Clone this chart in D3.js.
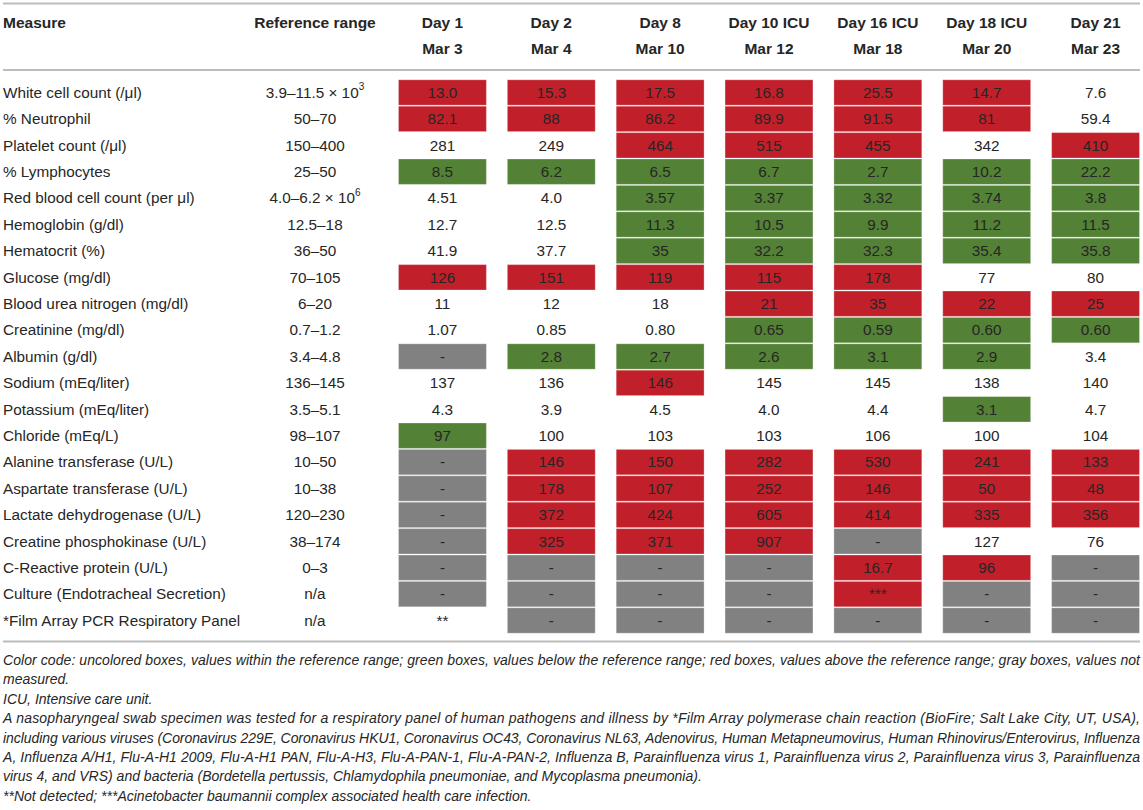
<!DOCTYPE html>
<html><head><meta charset="utf-8">
<script src="https://cdn.jsdelivr.net/npm/d3@7"></script>
<style>
body{margin:0;background:#fff;}
svg text{font-family:"Liberation Sans",Arial,sans-serif;fill:#262626;}
</style></head>
<body><svg id="c" width="1143" height="810"></svg>
<script>
const days = ["Day 1","Day 2","Day 8","Day 10 ICU","Day 16 ICU","Day 18 ICU","Day 21"];
const dates = ["Mar 3","Mar 4","Mar 10","Mar 12","Mar 18","Mar 20","Mar 23"];
const measures = ["White cell count (/μl)","% Neutrophil","Platelet count (/μl)","% Lymphocytes","Red blood cell count (per μl)","Hemoglobin (g/dl)","Hematocrit (%)","Glucose (mg/dl)","Blood urea nitrogen (mg/dl)","Creatinine (mg/dl)","Albumin (g/dl)","Sodium (mEq/liter)","Potassium (mEq/liter)","Chloride (mEq/L)","Alanine transferase (U/L)","Aspartate transferase (U/L)","Lactate dehydrogenase (U/L)","Creatine phosphokinase (U/L)","C-Reactive protein (U/L)","Culture (Endotracheal Secretion)","*Film Array PCR Respiratory Panel"];
const refRanges = ["3.9–11.5 × 10^3","50–70","150–400","25–50","4.0–6.2 × 10^6","12.5–18","36–50","70–105","6–20","0.7–1.2","3.4–4.8","136–145","3.5–5.1","98–107","10–50","10–38","120–230","38–174","0–3","n/a","n/a"];
const values = [
 ["13.0","15.3","17.5","16.8","25.5","14.7","7.6"],
 ["82.1","88","86.2","89.9","91.5","81","59.4"],
 ["281","249","464","515","455","342","410"],
 ["8.5","6.2","6.5","6.7","2.7","10.2","22.2"],
 ["4.51","4.0","3.57","3.37","3.32","3.74","3.8"],
 ["12.7","12.5","11.3","10.5","9.9","11.2","11.5"],
 ["41.9","37.7","35","32.2","32.3","35.4","35.8"],
 ["126","151","119","115","178","77","80"],
 ["11","12","18","21","35","22","25"],
 ["1.07","0.85","0.80","0.65","0.59","0.60","0.60"],
 ["-","2.8","2.7","2.6","3.1","2.9","3.4"],
 ["137","136","146","145","145","138","140"],
 ["4.3","3.9","4.5","4.0","4.4","3.1","4.7"],
 ["97","100","103","103","106","100","104"],
 ["-","146","150","282","530","241","133"],
 ["-","178","107","252","146","50","48"],
 ["-","372","424","605","414","335","356"],
 ["-","325","371","907","-","127","76"],
 ["-","-","-","-","16.7","96","-"],
 ["-","-","-","-","***","-","-"],
 ["**","-","-","-","-","-","-"]
];
// N = within range, L = below, H = above, X = not measured
const status = [
 "HHHHHHN","HHHHHHN","NNHHHNH","LLLLLLL","NNLLLLL","NNLLLLL","NNLLLLL",
 "HHHHHNN","NNNHHHH","NNNLLLL","XLLLLLN","NNHNNNN","NNNNNLN","LNNNNNN",
 "XHHHHHH","XHHHHHH","XHHHHHH","XHHHXNN","XXXXHHX","XXXXHXX","NXXXXXX"
];
const footnotes = [
 ["Color code: uncolored boxes, values within the reference range; green boxes, values below the reference range; red boxes, values above the reference range; gray boxes, values not", true],
 ["measured.", false],
 ["ICU, Intensive care unit.", false],
 ["A nasopharyngeal swab specimen was tested for a respiratory panel of human pathogens and illness by *Film Array polymerase chain reaction (BioFire; Salt Lake City, UT, USA),", true],
 ["including various viruses (Coronavirus 229E, Coronavirus HKU1, Coronavirus OC43, Coronavirus NL63, Adenovirus, Human Metapneumovirus, Human Rhinovirus/Enterovirus, Influenza", true],
 ["A, Influenza A/H1, Flu-A-H1 2009, Flu-A-H1 PAN, Flu-A-H3, Flu-A-PAN-1, Flu-A-PAN-2, Influenza B, Parainfluenza virus 1, Parainfluenza virus 2, Parainfluenza virus 3, Parainfluenza", true],
 ["virus 4, and VRS) and bacteria (Bordetella pertussis, Chlamydophila pneumoniae, and Mycoplasma pneumonia).", false],
 ["**Not detected; ***Acinetobacter baumannii complex associated health care infection.", false]
];
const colors = {H:"#c1202a", L:"#538135", X:"#818181", N:"none"};

const svg = d3.select("#c");
const x = d3.scaleBand().domain(days).range([398,1140]).paddingInner(20/109);
const y = d3.scaleBand().domain(measures).range([79.3,633.7]);
const left = 3, right = 1140, refX = 315;
const fs = 15.3;

// rules
[3.5, 70, 641.5].forEach(v => svg.append("line").attr("x1",left).attr("x2",right).attr("y1",v).attr("y2",v)
  .attr("stroke","#bcbcbc").attr("stroke-width",2));

// header
const hdr = svg.append("g").attr("font-weight","bold").attr("font-size",15.5);
hdr.append("text").attr("x",left).attr("y",23).attr("dy","0.35em").text("Measure");
hdr.append("text").attr("x",refX).attr("y",23).attr("dy","0.35em").attr("text-anchor","middle").text("Reference range");
days.forEach((d,i)=>{
  const cx = x(d)+x.bandwidth()/2;
  hdr.append("text").attr("x",cx).attr("y",23).attr("dy","0.35em").attr("text-anchor","middle").text(d);
  hdr.append("text").attr("x",cx).attr("y",49).attr("dy","0.35em").attr("text-anchor","middle").text(dates[i]);
});

// cells
const cells = [];
measures.forEach((m,r)=>days.forEach((d,c)=>cells.push({m,d,v:values[r][c],s:status[r][c]})));
const g = svg.append("g");
g.selectAll("rect").data(cells.filter(c=>c.s!=="N")).join("rect")
  .attr("x",c=>x(c.d)+0.5).attr("y",c=>y(c.m)+0.5)
  .attr("width",x.bandwidth()-1).attr("height",y.bandwidth()-1)
  .attr("fill",c=>colors[c.s]).attr("stroke","rgba(255,255,255,0.28)").attr("stroke-width",1);
g.selectAll("text").data(cells).join("text")
  .attr("x",c=>x(c.d)+x.bandwidth()/2).attr("y",c=>y(c.m)+y.bandwidth()/2).attr("dy","0.35em")
  .attr("text-anchor","middle").attr("font-size",fs).text(c=>c.v);

// row labels
const rl = svg.append("g").attr("font-size",fs);
measures.forEach((m,r)=>{
  const cy = y(m)+y.bandwidth()/2;
  rl.append("text").attr("x",left).attr("y",cy).attr("dy","0.35em").text(m);
  const parts = refRanges[r].split("^");
  const t = rl.append("text").attr("x",refX).attr("y",cy).attr("dy","0.35em").attr("text-anchor","middle");
  t.append("tspan").text(parts[0].replace(" × ","  ×  "));
  if(parts[1]) t.append("tspan").attr("font-size",10).attr("dy","-0.75em").text(parts[1]);
});

// footnotes
const fn = svg.append("g").attr("font-size",14).attr("font-style","italic");
footnotes.forEach((f,i)=>{
  const t = fn.append("text").attr("x",left).attr("y",660+i*19.4).attr("dy","0.35em").text(f[0]);
  if(f[1]) t.attr("textLength",right-left).attr("lengthAdjust","spacing");
});
</script></body></html>
